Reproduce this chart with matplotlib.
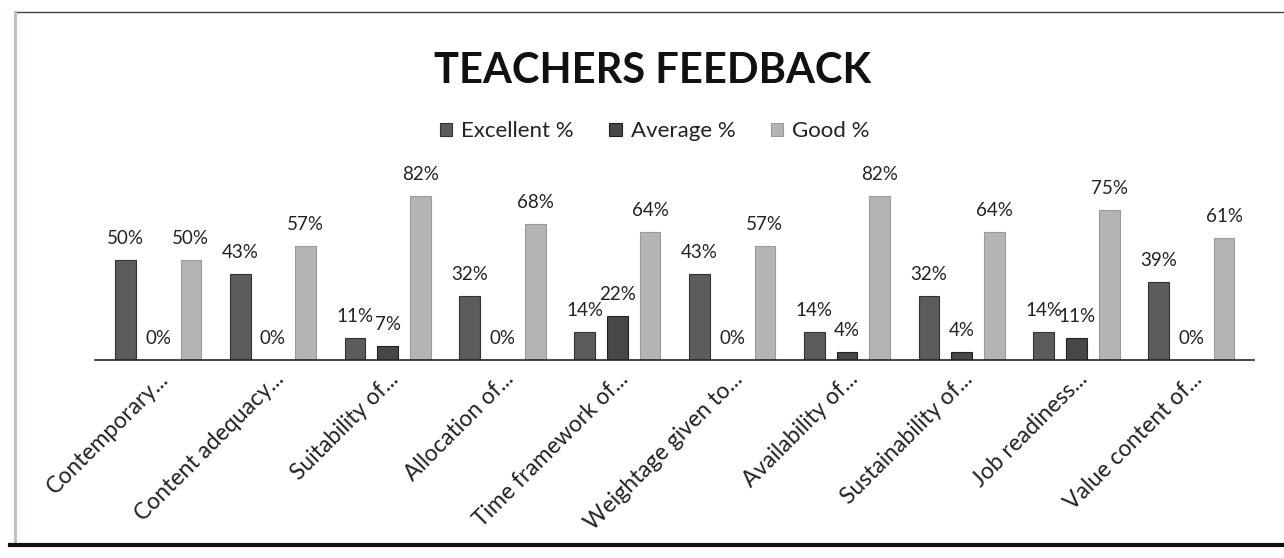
import matplotlib
matplotlib.use("Agg")
import matplotlib.pyplot as plt
import numpy as np
from matplotlib.lines import Line2D

categories = ["Contemporary...", "Content adequacy...", "Suitability of...", "Allocation of...",
              "Time framework of...", "Weightage given to...", "Availability of...",
              "Sustainability of...", "Job readiness...", "Value content of..."]
excellent = [50, 43, 11, 32, 14, 43, 14, 32, 14, 39]
average = [0, 0, 7, 0, 22, 0, 4, 4, 11, 0]
good = [50, 57, 82, 68, 64, 57, 82, 64, 75, 61]
series_names = ["Excellent %", "Average %", "Good %"]

plt.rcParams['font.family'] = ['Lato', 'DejaVu Sans']

fig = plt.figure(figsize=(12.84, 5.58), dpi=100)
fig.patch.set_facecolor('white')
ax = fig.add_axes([0.074, 0.355, 0.903, 0.3226])

x = np.arange(len(categories))
w = 0.18
gap = 0.285
colors = ['#5c5c5c', '#474747', '#b4b4b4']
edges = ['#333333', '#222222', '#9a9a9a']
for i, (vals, name) in enumerate(zip([excellent, average, good], series_names)):
    bars = ax.bar(x + (i - 1) * gap, vals, w, color=colors[i], edgecolor=edges[i],
                  linewidth=0.8, label=name)
    ax.bar_label(bars, labels=[f"{v}%" for v in vals], padding=9, fontsize=13.5,
                 color='#222222')

ax.set_ylim(0, 90)
ax.set_xlim(-0.55, len(categories) - 0.45)
ax.set_xticks(x)
ax.set_xticklabels(categories, rotation=45, ha='right', rotation_mode='anchor',
                   fontsize=16.5, color='#222222')
ax.tick_params(axis='x', length=0, pad=6)
ax.set_yticks([])
for s in ['top', 'right', 'left']:
    ax.spines[s].set_visible(False)
ax.spines['bottom'].set_color('#222222')
ax.spines['bottom'].set_linewidth(1.2)

fig.text(0.508, 0.872, "TEACHERS FEEDBACK", ha='center', va='center', fontsize=30,
         fontweight='bold', color='#111111')
fig.legend(loc='center', bbox_to_anchor=(0.51, 0.765), ncol=3, frameon=False,
           fontsize=16, handlelength=0.55, handleheight=0.55, columnspacing=1.6,
           handletextpad=0.4, labelcolor='#222222')

# outer frame of the scanned chart
fig.add_artist(Line2D([15 / 1284, 1.0], [1 - 12 / 558, 1 - 12 / 558], color='#444444',
                      linewidth=1.0, transform=fig.transFigure))
fig.add_artist(Line2D([15 / 1284, 15 / 1284], [1 - 12 / 558, 1 - 545 / 558],
                      color='#c8b8bc', linewidth=2.0, transform=fig.transFigure))
fig.add_artist(Line2D([10 / 1284, 1.0], [1 - 545 / 558, 1 - 545 / 558], color='#111111',
                      linewidth=3.0, transform=fig.transFigure))

fig.savefig("out.png", dpi=100, facecolor='white')
